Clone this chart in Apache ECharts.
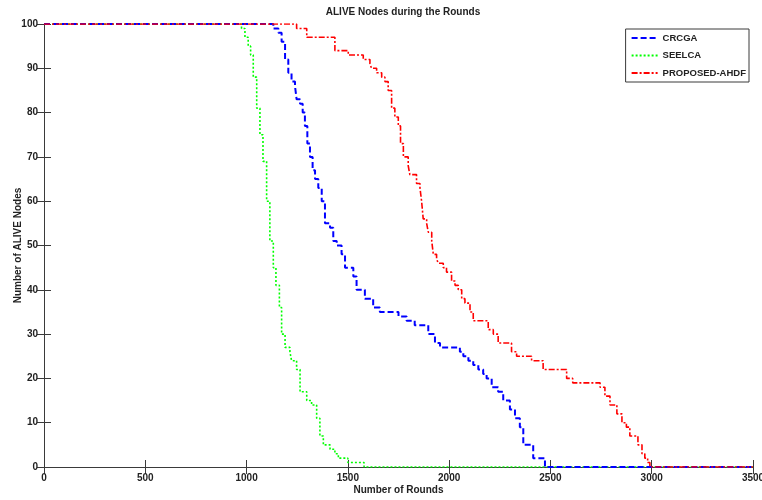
<!DOCTYPE html>
<html>
<head>
<meta charset="utf-8">
<script src="https://cdn.jsdelivr.net/npm/echarts@6/dist/echarts.min.js"></script>
<style>html,body{margin:0;padding:0;background:#fff}#c{width:762px;height:500px}</style>
</head>
<body>
<div id="c"></div>
<script>
// Data: [round, alive nodes]
const seriesNames = ['CRCGA', 'SEELCA', 'PROPOSED-AHDF'];
const xTicks = [0, 500, 1000, 1500, 2000, 2500, 3000, 3500];
const yTicks = [0, 10, 20, 30, 40, 50, 60, 70, 80, 90, 100];

const crcga = [[0,100],[1112,100],[1132,99],[1157,98],[1173,96],[1190,92],[1206,89],[1222,87],[1239,86],[1247,83],[1264,82],[1277,80],[1288,77],[1300,73],[1313,70],[1326,67],[1338,65],[1354,63],[1371,60],[1387,55],[1412,54],[1428,51],[1445,50],[1469,48],[1486,45],[1527,43],[1543,40],[1584,38],[1625,36],[1658,35],[1750,34],[1790,33],[1830,32],[1897,30],[1930,28],[1955,27],[2053,26],[2070,25],[2095,24],[2119,23],[2144,22],[2168,21],[2185,20],[2210,18],[2242,17],[2267,15],[2300,13],[2325,11],[2349,9],[2366,5],[2415,2],[2473,0],[3500,0]];

const seelca = [[0,100],[956,100],[975,99],[992,97],[1008,95],[1020,93],[1033,88],[1050,81],[1066,75],[1081,69],[1099,60],[1115,51],[1132,45],[1145,41],[1162,36],[1173,30],[1190,27],[1214,26],[1222,24],[1247,22],[1264,17],[1297,15],[1321,14],[1346,11],[1362,7],[1379,5],[1412,4],[1436,3],[1453,2],[1500,1],[1580,0],[3500,0]];

const proposed = [[0,100],[1231,100],[1247,99],[1297,97],[1436,94],[1502,93],[1576,92],[1609,91],[1617,90],[1642,89],[1667,88],[1683,87],[1699,85],[1716,81],[1732,79],[1749,77],[1760,73],[1774,70],[1798,68],[1806,66],[1839,64],[1856,63],[1864,60],[1872,56],[1889,55],[1897,53],[1914,51],[1922,48],[1938,47],[1946,46],[1971,45],[1987,44],[2012,42],[2029,41],[2045,40],[2062,38],[2078,37],[2103,35],[2119,33],[2193,31],[2218,30],[2242,28],[2308,26],[2333,25],[2407,24],[2464,22],[2580,20],[2610,19],[2745,18],[2769,16],[2794,14],[2828,12],[2853,10],[2875,9],[2892,7],[2932,5],[2952,3],[2966,2],[2980,1],[2991,0],[3500,0]];

const FONT = "'Liberation Sans Narrow','Arial Narrow','Liberation Sans',Arial,sans-serif";
const axisColor = '#3a3a3a';
const txt = {fontFamily: FONT, fontWeight: 'bold', fontSize: 10, color: '#222'};
const plain = v => String(v);

const chart = echarts.init(document.getElementById('c'), null, {renderer: 'canvas'});
const baseX = {type: 'value', min: xTicks[0], max: xTicks[xTicks.length-1], interval: 500,
  splitLine: {show: false}, axisLine: {lineStyle: {color: axisColor, width: 1}},
  axisTick: {inside: true, length: 7, lineStyle: {color: axisColor}}};
const baseY = {type: 'value', min: yTicks[0], max: yTicks[yTicks.length-1], interval: 10,
  splitLine: {show: false}, axisLine: {lineStyle: {color: axisColor, width: 1}},
  axisTick: {inside: true, length: 7, lineStyle: {color: axisColor}}};

chart.setOption({
  animation: false,
  backgroundColor: '#fff',
  title: {text: 'ALIVE Nodes during the Rounds', left: 398, top: 2, textAlign: 'center',
    textStyle: Object.assign({}, txt)},
  grid: {left: 44, right: 9, top: 24, bottom: 33, containLabel: false, outerBoundsMode: 'none'},
  legend: {
    data: seriesNames, orient: 'vertical', right: 13, top: 29,
    itemWidth: 26, itemHeight: 10, itemGap: 7.5,
    padding: [4, 3, 4, 5], borderColor: axisColor, borderWidth: 1, backgroundColor: '#fff',
    itemStyle: {opacity: 0, borderWidth: 0},
    textStyle: Object.assign({}, txt, {fontSize: 9.5})
  },
  xAxis: [
    Object.assign({}, baseX, {position: 'bottom', name: 'Number of Rounds', nameLocation: 'middle', nameGap: 18,
      nameMoveOverlap: false, nameTextStyle: txt,
      axisLabel: Object.assign({}, txt, {margin: 6, formatter: plain, showMaxLabel: true, showMinLabel: true})}),
    Object.assign({}, baseX, {position: 'top', axisLabel: {show: false}})
  ],
  yAxis: [
    Object.assign({}, baseY, {position: 'left', name: 'Number of ALIVE Nodes', nameLocation: 'middle', nameGap: 21,
      nameMoveOverlap: false, nameTextStyle: txt,
      axisLabel: Object.assign({}, txt, {margin: 6, formatter: plain})}),
    Object.assign({}, baseY, {position: 'right', axisLabel: {show: false}})
  ],
  series: [
    {name: seriesNames[0], type: 'line', step: 'end', data: crcga, symbol: 'none', z: 3,
      lineStyle: {color: '#0000ff', width: 2, type: [6, 3]}, itemStyle: {color: '#0000ff'}},
    {name: seriesNames[1], type: 'line', step: 'end', data: seelca, symbol: 'none', z: 2,
      lineStyle: {color: '#00ff00', width: 1.6, type: [2, 2]}, itemStyle: {color: '#00ff00'}},
    {name: seriesNames[2], type: 'line', step: 'end', data: proposed, symbol: 'none', z: 4,
      lineStyle: {color: '#ff0000', width: 1.6, type: [6, 2, 2, 2]}, itemStyle: {color: '#ff0000'}}
  ]
});
</script>
</body>
</html>
